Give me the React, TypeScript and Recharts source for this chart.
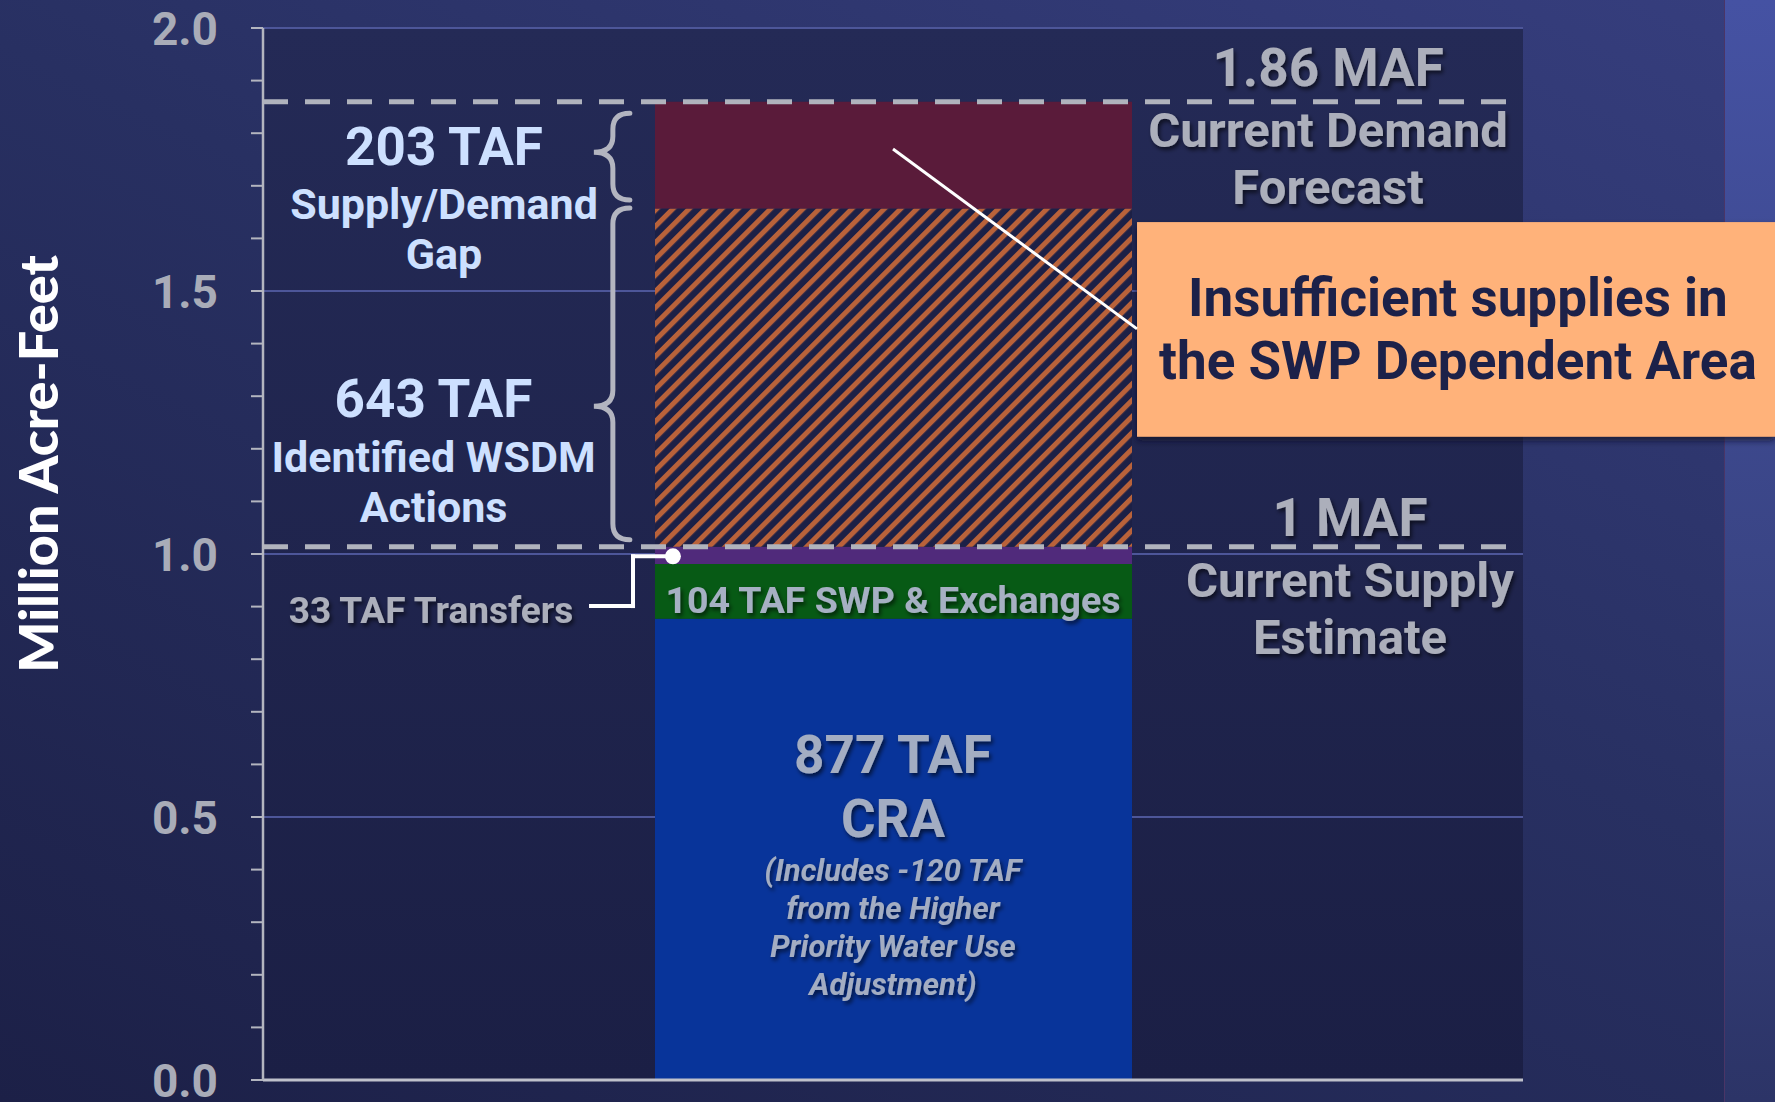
import React from "react";
import {
  BarChart,
  Bar,
  XAxis,
  YAxis,
  CartesianGrid,
  ReferenceLine,
  ReferenceDot,
  ReferenceArea,
} from "recharts";

// values in million acre-feet
const categories = ["SWP Dependent Area"];
const craValues = [0.877];
const swpValues = [0.104];
const transferValues = [0.033];
const wsdmValues = [0.643];
const gapValues = [0.203];

const yTicks = [
  0, 0.1, 0.2, 0.3, 0.4, 0.5, 0.6, 0.7, 0.8, 0.9, 1.0, 1.1, 1.2, 1.3, 1.4,
  1.5, 1.6, 1.7, 1.8, 1.9, 2.0,
];

const demandForecast = 1.86;
const supplyEstimate = 1.014;

// braces on the left of the bar (MAF)
const braces = [
  { from: 1.673, to: 1.838, tip: 1.764 },
  { from: 1.027, to: 1.658, tip: 1.281 },
];

const data = categories.map((name, i) => ({
  name,
  slot: 1.5,
  cra: craValues[i],
  swp: swpValues[i],
  transfers: transferValues[i],
  wsdm: wsdmValues[i],
  gap: gapValues[i],
}));

type Line = { text: string; dy: number; size: number; italic?: boolean };

const GRAY = "#acafbb";
const LIGHT_BLUE = "#cde0ff";

// x of annotations is on a hidden 0..3 axis spanning the plot
const notes: { x: number; y: number; fill: string; shadow: boolean; lines: Line[] }[] = [
  {
    x: 0.431,
    y: 1.7395,
    fill: LIGHT_BLUE,
    shadow: false,
    lines: [
      { text: "203 TAF", dy: 0, size: 53 },
      { text: "Supply/Demand", dy: 54, size: 43 },
      { text: "Gap", dy: 104, size: 43 },
    ],
  },
  {
    x: 0.406,
    y: 1.2605,
    fill: LIGHT_BLUE,
    shadow: false,
    lines: [
      { text: "643 TAF", dy: 0, size: 53 },
      { text: "Identified WSDM", dy: 55, size: 43 },
      { text: "Actions", dy: 105, size: 43 },
    ],
  },
  {
    x: 2.536,
    y: 1.89,
    fill: GRAY,
    shadow: true,
    lines: [
      { text: "1.86 MAF", dy: 0, size: 53 },
      { text: "Current Demand", dy: 61, size: 49 },
      { text: "Forecast", dy: 118, size: 49 },
    ],
  },
  {
    x: 2.588,
    y: 1.034,
    fill: GRAY,
    shadow: true,
    lines: [
      { text: "1 MAF", dy: 0, size: 53 },
      { text: "Current Supply", dy: 61, size: 49 },
      { text: "Estimate", dy: 118, size: 49 },
    ],
  },
  {
    x: 1.5,
    y: 0.5837,
    fill: "#a3adc2",
    shadow: true,
    lines: [
      { text: "877 TAF", dy: 0, size: 53 },
      { text: "CRA", dy: 64, size: 53 },
      { text: "(Includes -120 TAF", dy: 108, size: 31, italic: true },
      { text: "from the Higher", dy: 146, size: 31, italic: true },
      { text: "Priority Water Use", dy: 184, size: 31, italic: true },
      { text: "Adjustment)", dy: 222, size: 31, italic: true },
    ],
  },
  {
    x: 1.5,
    y: 0.888,
    fill: "#a6b0c3",
    shadow: true,
    lines: [{ text: "104 TAF SWP & Exchanges", dy: 0, size: 37.5 }],
  },
  {
    x: 0.4,
    y: 0.869,
    fill: GRAY,
    shadow: true,
    lines: [{ text: "33 TAF Transfers", dy: 0, size: 37 }],
  },
  {
    x: 2.845,
    y: 1.4525,
    fill: "#1c2149",
    shadow: false,
    lines: [
      { text: "Insufficient supplies in", dy: 0, size: 53 },
      { text: "the SWP Dependent Area", dy: 63, size: 53 },
    ],
  },
];

const textBlock =
  (lines: Line[], fill: string, shadow: boolean) => (props: any) => {
    const vb = props.viewBox || {};
    const cx = (vb.cx ?? vb.x + (vb.width || 0) / 2) as number;
    const cy = (vb.cy ?? vb.y + (vb.height || 0) / 2) as number;
    return (
      <g filter={shadow ? "url(#txtShadow)" : undefined}>
        {lines.map((l, i) => (
          <text
            key={i}
            x={cx}
            y={cy + l.dy}
            textAnchor="middle"
            fill={fill}
            fontFamily="Roboto, sans-serif"
            fontWeight={700}
            fontStyle={l.italic ? "italic" : "normal"}
            fontSize={l.size}
          >
            {l.text}
          </text>
        ))}
      </g>
    );
  };

const braceShape = (b: { from: number; to: number; tip: number }) => (p: any) => {
  const x = p.x1;
  const top = Math.min(p.y1, p.y2);
  const bot = Math.max(p.y1, p.y2);
  const ym = top + ((b.to - b.tip) / (b.to - b.from)) * (bot - top);
  const r = 16;
  const d = `M ${x + 17} ${top} Q ${x} ${top} ${x} ${top + r} L ${x} ${ym - r} Q ${x} ${ym} ${x - 19} ${ym} Q ${x} ${ym} ${x} ${ym + r} L ${x} ${bot - r} Q ${x} ${bot} ${x + 17} ${bot}`;
  return (
    <path d={d} fill="none" stroke="#b3b5c0" strokeWidth={5} strokeLinecap="round" />
  );
};

const YTick = (props: any) => {
  const { x, y, payload } = props;
  const v = payload.value;
  if (Math.abs(v * 2 - Math.round(v * 2)) > 1e-6) return null;
  return (
    <text
      x={x}
      y={y}
      dy="0.36em"
      textAnchor="end"
      fill="#a9acb8"
      fontFamily="Roboto, sans-serif"
      fontWeight={700}
      fontSize={46}
    >
      {v.toFixed(1)}
    </text>
  );
};

const AxisTitle = (props: any) => {
  const vb = props.viewBox;
  const x = vb.x + 58;
  const y = vb.y + vb.height / 2 - 90;
  return (
    <text
      x={x}
      y={y}
      transform={`rotate(-90, ${x}, ${y})`}
      textAnchor="middle"
      fill="#ffffff"
      fontFamily="Lato, sans-serif"
      fontWeight={900}
      fontSize={54}
    >
      Million Acre-Feet
    </text>
  );
};

const CalloutBox = (p: any) => (
  <rect
    x={p.x}
    y={p.y}
    width={p.width}
    height={p.height}
    fill="#ffb27a"
    filter="url(#boxShadow)"
  />
);

export default function App() {
  return (
    <div
      style={{
        position: "absolute",
        left: 0,
        top: 0,
        width: 1775,
        height: 1102,
        overflow: "hidden",
        background: "linear-gradient(205deg, #363e7e 0%, #283062 45%, #1c2047 100%)",
      }}
    >
      <div
        style={{
          position: "absolute",
          left: 1724,
          top: 0,
          width: 51,
          height: 1102,
          borderLeft: "1px solid #4a3566",
          background: "linear-gradient(180deg, #4552a3 0%, #3a4586 50%, #2c3467 100%)",
        }}
      />
      <div style={{ position: "absolute", left: 0, top: 0 }}>
        <BarChart
          width={1775}
          height={1102}
          data={data}
          margin={{ top: 28, right: 252, bottom: 0, left: 0 }}
        >
          <defs>
            <linearGradient id="plotBg" x1="0" y1="0" x2="0" y2="1">
              <stop offset="0%" stopColor="#242a56" />
              <stop offset="100%" stopColor="#1b1f45" />
            </linearGradient>
            <pattern
              id="hatch"
              width="11.5"
              height="11.5"
              patternUnits="userSpaceOnUse"
              patternTransform="rotate(45)"
            >
              <rect width="11.5" height="11.5" fill="#1c2046" />
              <rect width="5" height="11.5" fill="#b9623a" />
            </pattern>
            <filter id="txtShadow" x="-10%" y="-30%" width="120%" height="160%">
              <feDropShadow dx="2" dy="3" stdDeviation="2" floodColor="#000000" floodOpacity="0.6" />
            </filter>
            <filter id="boxShadow" x="-5%" y="-10%" width="110%" height="125%">
              <feDropShadow dx="0" dy="4" stdDeviation="3" floodColor="#0b0d22" floodOpacity="0.7" />
            </filter>
          </defs>
          <CartesianGrid
            vertical={false}
            horizontalValues={[0.5, 1, 1.5, 2]}
            stroke="#4d5699"
            strokeWidth={2}
            fill="url(#plotBg)"
          />
          <XAxis
            dataKey="name"
            height={22}
            tick={false}
            tickLine={false}
            axisLine={{ stroke: "#bfc1cb", strokeWidth: 3 }}
          />
          <XAxis
            xAxisId="pos"
            dataKey="slot"
            type="number"
            domain={[0, 3]}
            allowDataOverflow
            hide
          />
          <YAxis
            width={263}
            type="number"
            domain={[0, 2]}
            ticks={yTicks}
            interval={0}
            tickSize={12}
            tickMargin={33}
            axisLine={{ stroke: "#b3b5bf", strokeWidth: 2.5 }}
            tickLine={{ stroke: "#b3b5bf", strokeWidth: 2 }}
            tick={<YTick />}
            label={AxisTitle}
          />
          <Bar dataKey="cra" stackId="s" fill="#08349a" barSize={477} isAnimationActive={false} />
          <Bar dataKey="swp" stackId="s" fill="#075a15" barSize={477} isAnimationActive={false} />
          <Bar dataKey="transfers" stackId="s" fill="#502a7b" barSize={477} isAnimationActive={false} />
          <Bar dataKey="wsdm" stackId="s" fill="url(#hatch)" barSize={477} isAnimationActive={false} />
          <Bar dataKey="gap" stackId="s" fill="#5a1b3a" barSize={477} isAnimationActive={false} />

          <ReferenceLine
            y={demandForecast}
            stroke="#b0b3bd"
            strokeWidth={5}
            strokeDasharray="25 17"
          />
          <ReferenceLine
            y={supplyEstimate}
            stroke="#b0b3bd"
            strokeWidth={5}
            strokeDasharray="25 17"
          />

          {braces.map((b, i) => (
            <ReferenceLine
              key={`brace-${i}`}
              xAxisId="pos"
              ifOverflow="visible"
              segment={[
                { x: 0.833, y: b.to },
                { x: 0.833, y: b.from },
              ]}
              shape={braceShape(b)}
            />
          ))}

          {/* connector for the transfers label */}
          <ReferenceLine
            xAxisId="pos"
            ifOverflow="visible"
            segment={[
              { x: 0.781, y: 0.901 },
              { x: 0.881, y: 0.901 },
            ]}
            stroke="#ffffff"
            strokeWidth={4}
            strokeLinecap="square"
          />
          <ReferenceLine
            xAxisId="pos"
            ifOverflow="visible"
            segment={[
              { x: 0.881, y: 0.901 },
              { x: 0.881, y: 0.9955 },
            ]}
            stroke="#ffffff"
            strokeWidth={4}
            strokeLinecap="square"
          />
          <ReferenceLine
            xAxisId="pos"
            ifOverflow="visible"
            segment={[
              { x: 0.881, y: 0.9955 },
              { x: 0.976, y: 0.9955 },
            ]}
            stroke="#ffffff"
            strokeWidth={4}
            strokeLinecap="square"
          />
          <ReferenceDot
            xAxisId="pos"
            x={0.976}
            y={0.9955}
            r={8}
            fill="#ffffff"
            stroke="none"
            ifOverflow="visible"
          />

          {/* callout */}
          <ReferenceLine
            xAxisId="pos"
            ifOverflow="visible"
            segment={[
              { x: 1.5, y: 1.77 },
              { x: 2.081, y: 1.428 },
            ]}
            stroke="#ffffff"
            strokeWidth={3}
          />
          <ReferenceArea
            xAxisId="pos"
            x1={2.081}
            x2={3.6}
            y1={1.223}
            y2={1.631}
            ifOverflow="visible"
            shape={CalloutBox}
          />

          {notes.map((n, i) => (
            <ReferenceDot
              key={`note-${i}`}
              xAxisId="pos"
              x={n.x}
              y={n.y}
              r={0}
              fill="none"
              stroke="none"
              ifOverflow="visible"
              label={textBlock(n.lines, n.fill, n.shadow)}
            />
          ))}
        </BarChart>
      </div>
    </div>
  );
}
